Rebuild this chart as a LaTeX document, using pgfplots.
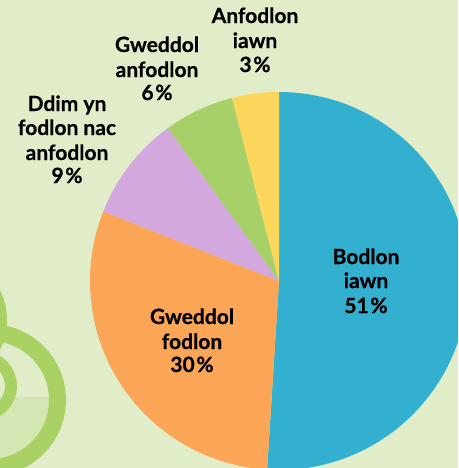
\documentclass[border=0pt]{standalone}
\usepackage{pgfplots}
\pgfplotsset{compat=1.18}
\usepackage{pgfplotstable}
\usepackage{fontspec}
\setmainfont{Lato}
\newfontfamily\labfont{Lato}[UprightFont={* Bold}, FakeBold=0.6]
\definecolor{bgc}{HTML}{E1EDC9}
\definecolor{bgd}{HTML}{D4E6B1}
\definecolor{ringc}{HTML}{A9D163}
\definecolor{cblue}{HTML}{33B0D0}
\definecolor{corange}{HTML}{FBA556}
\definecolor{cpurple}{HTML}{D3A8DF}
\definecolor{cgreen}{HTML}{A8D068}
\definecolor{cyellow}{HTML}{FCD75B}
% slice shares (percent of the drawn circle), clockwise from 12 o'clock
\pgfplotstableread{
name value color
Bodlon 51 cblue
Gfodlon 30 corange
Ddim 9 cpurple
Ganfodlon 6 cgreen
Anfodlon 4 cyellow
}\piedata
\newcommand\lab[3]{\node[anchor=base,inner sep=0pt,font=\labfont\fontsize{10.5}{12}\selectfont] at (axis cs:#1,#2) {#3};}
\newcommand\pc{\kern0.08em\%}
\begin{document}
\begin{tikzpicture}
\begin{axis}[
  scale only axis, width=229pt, height=234pt,
  xmin=0, xmax=458, ymin=0, ymax=468, y dir=reverse,
  axis lines=none, clip=true,
]
\fill[bgc] (axis cs:0,0) rectangle (axis cs:458,468);
% decorative rings
\begin{scope}
  \clip (axis cs:-10,400) circle[radius=34pt];
  \fill[bgd] (axis cs:0,397) rectangle (axis cs:80,468);
\end{scope}
\draw[ringc, line width=6pt] (axis cs:-60,320) circle[radius=30.5pt];
\draw[ringc, line width=8.5pt] (axis cs:-10,400) circle[radius=33.75pt];
\draw[ringc, line width=6pt] (axis cs:-18,386) circle[radius=14.5pt];
% pie
\pgfplotstablegetrowsof{\piedata}
\pgfmathtruncatemacro\nrows{\pgfplotsretval-1}
\gdef\acc{90}
\foreach \i in {0,...,\nrows}{%
  \pgfplotstablegetelem{\i}{value}\of{\piedata}\let\v\pgfplotsretval
  \pgfplotstablegetelem{\i}{color}\of{\piedata}\let\c\pgfplotsretval
  \pgfmathsetmacro\e{\acc-3.6*\v}%
  \edef\tmp{\noexpand\fill[\c] (axis cs:279,281) -- ++(\acc:94.5pt) arc[start angle=\acc, end angle=\e, radius=94.5pt] -- cycle;}%
  \tmp
  \global\let\acc\e
}
% labels
\lab{255}{23}{Anfodlon}
\lab{255}{48}{iawn}
\lab{255}{72}{3\pc}
\lab{157}{52}{Gweddol}
\lab{157}{77}{anfodlon}
\lab{157}{100}{6\pc}
\lab{67}{111}{Ddim yn}
\lab{67}{135}{fodlon nac}
\lab{67}{160}{anfodlon}
\lab{67}{183}{9\pc}
\lab{366}{264}{Bodlon}
\lab{366}{288}{iawn}
\lab{366}{313}{51\pc}
\lab{192}{324}{Gweddol}
\lab{192}{349}{fodlon}
\lab{192}{372}{30\pc}
\end{axis}
\end{tikzpicture}
\end{document}
